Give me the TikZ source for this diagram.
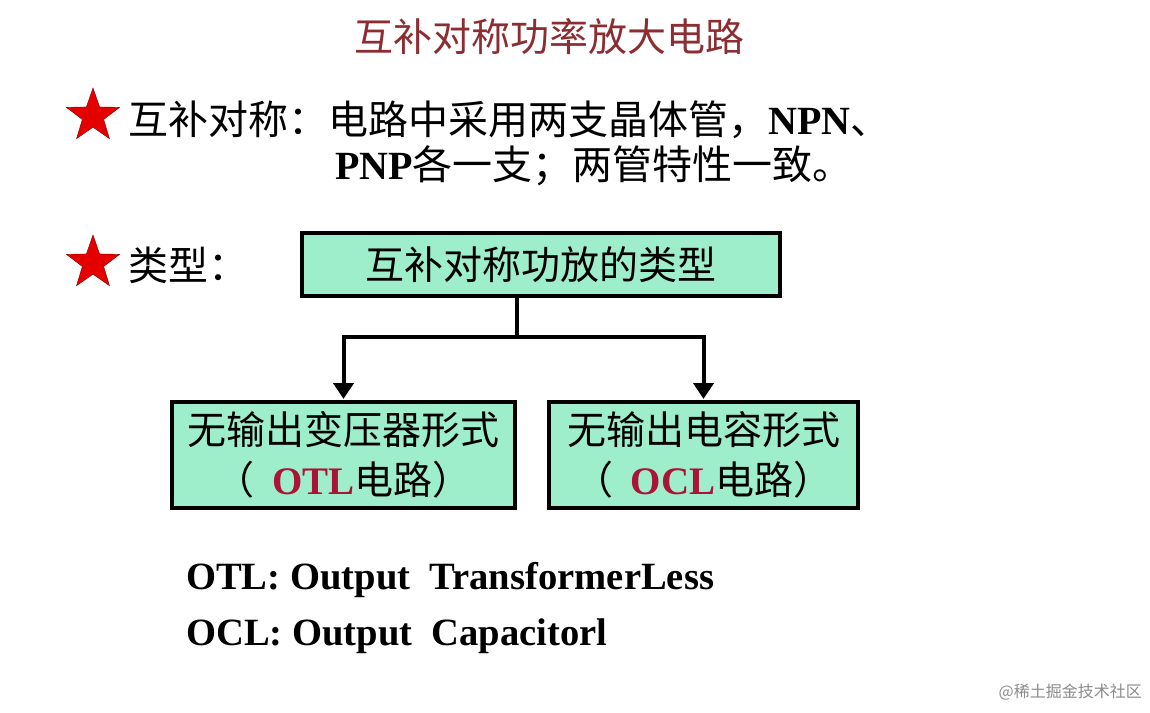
\documentclass[tikz,border=0pt]{standalone}
\usepackage{fontspec}
\setmainfont{Liberation Serif}
\newfontfamily\cjk{Noto Sans CJK SC}
\usetikzlibrary{shapes.geometric,arrows.meta}
\definecolor{mint}{RGB}{158,238,204}
\definecolor{titlered}{RGB}{140,45,50}
\definecolor{otlred}{RGB}{170,20,55}
\begin{document}
\begin{tikzpicture}[x=1pt,y=-1pt,
  redstar/.style={star,star points=5,star point ratio=2.5,fill=red!90!black,draw=red!50!black,minimum size=56pt,inner sep=0pt},
  txt/.style={inner sep=0pt,font=\fontsize{40}{46}\selectfont\cjk},
  typebox/.style={draw=black,line width=4pt,fill=mint,inner sep=0pt,align=center,font=\fontsize{39}{50}\selectfont\cjk},
  conn/.style={line width=4pt},
  arr/.style={line width=4pt,-{Triangle[length=16pt,width=20pt]},shorten >=1pt},
  eng/.style={inner sep=0pt,anchor=west,font=\fontsize{38.6}{44}\selectfont\bfseries}]
\useasboundingbox[fill=white] (0,0) rectangle (1150,712);
% title
\node[txt,text=titlered,font=\fontsize{39}{44}\selectfont\cjk] (title) at (549,37) {互补对称功率放大电路};
% first point
\node[redstar] (star1) at (93,116) {};
\node[txt,anchor=west] (line1) at (128,120) {互补对称：电路中采用两支晶体管，{\rmfamily\bfseries NPN}、};
\node[txt,anchor=west] (line2) at (335,166) {{\rmfamily\bfseries PNP}各一支；两管特性一致。};
% second point
\node[redstar] (star2) at (93,263) {};
\node[txt,anchor=west] (kind) at (128,265) {类型：};
\node[typebox,minimum width=478pt,minimum height=63pt] (top) at (541,264.5) {互补对称功放的类型};
\node[typebox,minimum width=343pt,minimum height=106pt] (otl) at (343.5,455)
  {无输出变压器形式\\（\ \ {\rmfamily\bfseries\color{otlred}OTL}电路）};
\node[typebox,minimum width=309pt,minimum height=106pt] (ocl) at (703.5,455)
  {无输出电容形式\\（\ \ {\rmfamily\bfseries\color{otlred}OCL}电路）};
\coordinate (split) at (517,337);
\draw[conn] (top.south -| split) -- (split);
\draw[arr] (split) -| (otl.north);
\draw[arr] (split) -| (ocl.north);
% abbreviations
\node[eng] (otlname) at (186,580) {OTL: Output\ \ TransformerLess};
\node[eng] (oclname) at (186,636) {OCL: Output\ \ Capacitorl};
\node[inner sep=0pt,anchor=east,text=black!45,font=\fontsize{16}{18}\selectfont\cjk] (mark) at (1142,692) {@稀土掘金技术社区};
\end{tikzpicture}
\end{document}
